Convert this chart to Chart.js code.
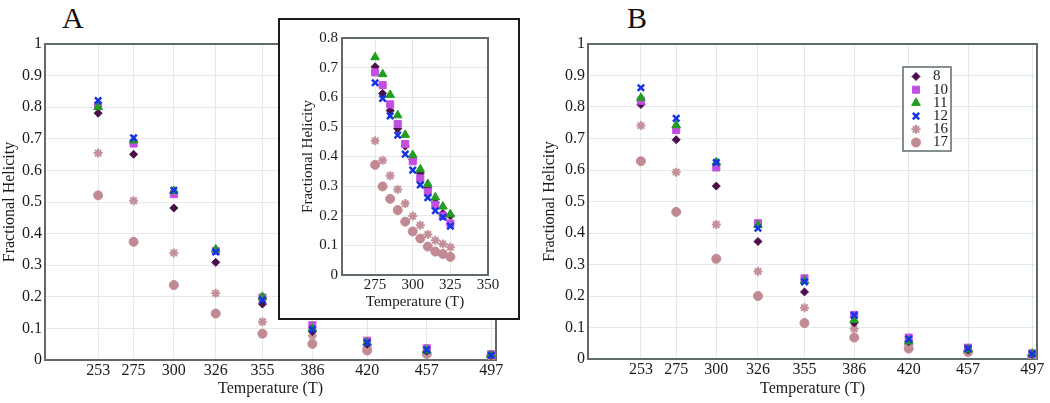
<!DOCTYPE html>
<html>
<head>
<meta charset="utf-8">
<script src="https://cdn.jsdelivr.net/npm/chart.js"></script>
<style>
  body { margin: 0; background: #fff; width: 1050px; height: 403px; position: relative; overflow: hidden; font-family: 'Liberation Serif', 'Times New Roman', serif; }
  .panel { position: absolute; }
  .tag { position: absolute; font-size: 30px; line-height: 30px; color: #111; }
  #insetBox { position: absolute; left: 278px; top: 18px; width: 242px; height: 302px; border: 2px solid #1a1a1a; box-sizing: border-box; background: #fff; }
</style>
</head>
<body>
<div class="tag" style="left:62px;top:3px">A</div>
<div class="tag" style="left:627px;top:3px">B</div>
<canvas id="chartA" class="panel" style="left:0;top:0" width="530" height="403"></canvas>
<canvas id="chartB" class="panel" style="left:530px;top:0" width="520" height="403"></canvas>
<div id="insetBox"><canvas id="chartInset" width="238" height="298"></canvas></div>

<script>
// temperatures on the main panels
const temps = [253, 275, 300, 326, 355, 386, 420, 457, 497];
// temperatures on the inset
const insetTemps = [275, 280, 285, 290, 295, 300, 305, 310, 315, 320, 325];
const insetTicks = [275, 300, 325, 350];
const seriesNames = ['8', '10', '11', '12', '16', '17'];

// panel A
const a8  = [0.781, 0.651, 0.481, 0.309, 0.177, 0.090, 0.050, 0.028, 0.014];
const a10 = [0.805, 0.685, 0.525, 0.345, 0.198, 0.110, 0.061, 0.037, 0.018];
const a11 = [0.800, 0.695, 0.535, 0.350, 0.200, 0.100, 0.055, 0.030, 0.016];
const a12 = [0.821, 0.703, 0.537, 0.342, 0.190, 0.097, 0.055, 0.032, 0.015];
const a16 = [0.655, 0.504, 0.339, 0.211, 0.121, 0.077, 0.040, 0.020, 0.012];
const a17 = [0.521, 0.374, 0.237, 0.147, 0.083, 0.051, 0.030, 0.019, 0.012];

// inset of panel A
const i8  = [0.703, 0.613, 0.555, 0.494, 0.435, 0.390, 0.343, 0.293, 0.245, 0.208, 0.200];
const i10 = [0.684, 0.641, 0.576, 0.510, 0.442, 0.384, 0.326, 0.281, 0.236, 0.200, 0.174];
const i11 = [0.735, 0.678, 0.608, 0.539, 0.473, 0.405, 0.357, 0.307, 0.262, 0.231, 0.205];
const i12 = [0.649, 0.596, 0.537, 0.472, 0.408, 0.354, 0.304, 0.261, 0.217, 0.195, 0.165];
const i16 = [0.453, 0.387, 0.335, 0.289, 0.241, 0.199, 0.168, 0.137, 0.117, 0.105, 0.094];
const i17 = [0.372, 0.299, 0.257, 0.219, 0.180, 0.147, 0.123, 0.096, 0.079, 0.071, 0.061];

// panel B
const b8  = [0.808, 0.696, 0.549, 0.373, 0.213, 0.115, 0.055, 0.028, 0.014];
const b10 = [0.820, 0.727, 0.608, 0.431, 0.256, 0.140, 0.068, 0.036, 0.018];
const b11 = [0.829, 0.742, 0.625, 0.425, 0.248, 0.124, 0.056, 0.030, 0.017];
const b12 = [0.861, 0.764, 0.624, 0.415, 0.245, 0.139, 0.063, 0.033, 0.016];
const b16 = [0.741, 0.593, 0.427, 0.278, 0.163, 0.096, 0.045, 0.022, 0.010];
const b17 = [0.628, 0.467, 0.318, 0.200, 0.114, 0.068, 0.033, 0.022, 0.008];


Chart.defaults.font.family = "'Liberation Serif', 'Times New Roman', serif";
Chart.defaults.color = '#1a1a1a';

const frameColor = '#5f6b6b';
const gridColor = '#e6e9eb';

// marker look per series (same order as seriesNames)
const markers = [
    { pointStyle: 'rectRot',  color: '#4b0f48', radius: 4,   borderWidth: 1,   order: 3 },
    { pointStyle: 'rect',     color: '#c24fe0', radius: 5,   borderWidth: 1,   order: 2 },
    { pointStyle: 'triangle', color: '#1f9e1f', radius: 5,   borderWidth: 1,   order: 1 },
    { pointStyle: 'crossRot', color: '#1733e6', radius: 4.5, borderWidth: 2.5, order: 0 },
    { pointStyle: 'star',     color: '#c38f99', radius: 4.5, borderWidth: 2,   order: 4 },
    { pointStyle: 'circle',   color: '#c18a93', radius: 4.5, borderWidth: 1,   order: 5 }
];

const makeDatasets = (xs, seriesList) => seriesList.map((ys, i) => ({
    label: seriesNames[i],
    data: xs.map((x, j) => ({ x: x, y: ys[j] })),
    pointStyle: markers[i].pointStyle,
    pointRadius: markers[i].radius,
    pointBorderWidth: markers[i].borderWidth,
    backgroundColor: markers[i].color,
    borderColor: markers[i].color,
    order: markers[i].order,
    showLine: false
}));

// 1 and 0 without decimals, like the original axis
const tickText = (v) => String(Math.round(v * 10) / 10);


// box round the plot area
const framePlugin = {
    id: 'frame',
    beforeDatasetsDraw(chart, args, opts) {
        const { ctx, chartArea: a } = chart;
        ctx.save();
        ctx.strokeStyle = opts.color;
        ctx.lineWidth = opts.width;
        ctx.strokeRect(a.left, a.top, a.right - a.left, a.bottom - a.top);
        ctx.restore();
    }
};

// boxed legend inside panel B
const boxLegendPlugin = {
    id: 'boxLegend',
    afterDraw(chart, args, opts) {
        const { ctx } = chart;
        ctx.save();
        ctx.fillStyle = '#fff';
        ctx.fillRect(opts.x, opts.y, opts.w, opts.h);
        ctx.strokeStyle = frameColor;
        ctx.lineWidth = 1.5;
        ctx.strokeRect(opts.x, opts.y, opts.w, opts.h);
        chart.data.datasets.forEach((ds, i) => {
            const y = opts.y + opts.firstRow + i * opts.rowGap;
            ctx.fillStyle = ds.backgroundColor;
            ctx.strokeStyle = ds.borderColor;
            ctx.lineWidth = ds.pointBorderWidth;
            Chart.helpers.drawPoint(ctx, {
                pointStyle: ds.pointStyle,
                radius: ds.pointRadius,
                borderWidth: ds.pointBorderWidth,
                rotation: 0
            }, opts.x + opts.symbolX, y);
            ctx.fillStyle = '#1a1a1a';
            ctx.font = "15px 'Liberation Serif', serif";
            ctx.textBaseline = 'middle';
            ctx.textAlign = 'left';
            ctx.fillText(ds.label, opts.x + opts.textX, y);
        });
        ctx.restore();
    }
};


const mainOptions = (yWidth, xHeight, padding) => ({
    responsive: false,
    animation: false,
    layout: { padding: padding },
    plugins: {
        legend: { display: false },
        tooltip: { enabled: false },
        frame: { color: frameColor, width: 2 }
    },
    scales: {
        x: {
            type: 'linear',
            min: 220,
            max: 500,
            afterBuildTicks: (scale) => { scale.ticks = temps.map((v) => ({ value: v })); },
            afterFit: (scale) => { scale.height = xHeight; },
            grid: { color: gridColor, drawTicks: false },
            border: { display: false },
            ticks: { font: { size: 16 }, padding: 1, maxRotation: 0, autoSkip: false },
            title: { display: true, text: 'Temperature (T)', font: { size: 16 }, padding: { top: 0, bottom: 5 } }
        },
        y: {
            min: 0,
            max: 1,
            afterFit: (scale) => { scale.width = yWidth; },
            grid: { color: gridColor, drawTicks: false },
            border: { display: false },
            ticks: { stepSize: 0.1, font: { size: 16 }, padding: 3, callback: tickText },
            title: { display: true, text: 'Fractional Helicity', font: { size: 16 }, padding: 0 }
        }
    }
});


const chartA = new Chart(document.getElementById('chartA'), {
    type: 'scatter',
    data: { datasets: makeDatasets(temps, [a8, a10, a11, a12, a16, a17]) },
    options: mainOptions(45, 43, { left: 0, top: 44, right: 34, bottom: 0 }),
    plugins: [framePlugin]
});

const optionsB = mainOptions(48, 44, { left: 10, top: 44, right: 13, bottom: 0 });
optionsB.plugins.boxLegend = { x: 373, y: 67, w: 48, h: 84, firstRow: 9.5, rowGap: 13.2, symbolX: 13, textX: 30 };
const chartB = new Chart(document.getElementById('chartB'), {
    type: 'scatter',
    data: { datasets: makeDatasets(temps, [b8, b10, b11, b12, b16, b17]) },
    options: optionsB,
    plugins: [framePlugin, boxLegendPlugin]
});

const chartInset = new Chart(document.getElementById('chartInset'), {
    type: 'scatter',
    data: { datasets: makeDatasets(insetTemps, [i8, i10, i11, i12, i16, i17]) },
    options: {
        responsive: false,
        animation: false,
        layout: { padding: { left: 19, top: 18, right: 30, bottom: 0 } },
        plugins: {
            legend: { display: false },
            tooltip: { enabled: false },
            frame: { color: frameColor, width: 2 }
        },
        scales: {
            x: {
                type: 'linear',
                min: 253,
                max: 350,
                afterBuildTicks: (scale) => { scale.ticks = insetTicks.map((v) => ({ value: v })); },
                afterFit: (scale) => { scale.height = 43; },
                grid: { color: gridColor, drawTicks: false },
                border: { display: false },
                ticks: { font: { size: 15 }, padding: 1, maxRotation: 0, autoSkip: false },
                title: { display: true, text: 'Temperature (T)', font: { size: 15 }, padding: { top: 0, bottom: 7 } }
            },
            y: {
                min: 0,
                max: 0.8,
                afterFit: (scale) => { scale.width = 43; },
                grid: { color: gridColor, drawTicks: false },
                border: { display: false },
                ticks: { stepSize: 0.1, font: { size: 15 }, padding: 4, callback: tickText },
                title: { display: true, text: 'Fractional Helicity', font: { size: 15 }, padding: 0 }
            }
        }
    },
    plugins: [framePlugin]
});
</script>
</body>
</html>
